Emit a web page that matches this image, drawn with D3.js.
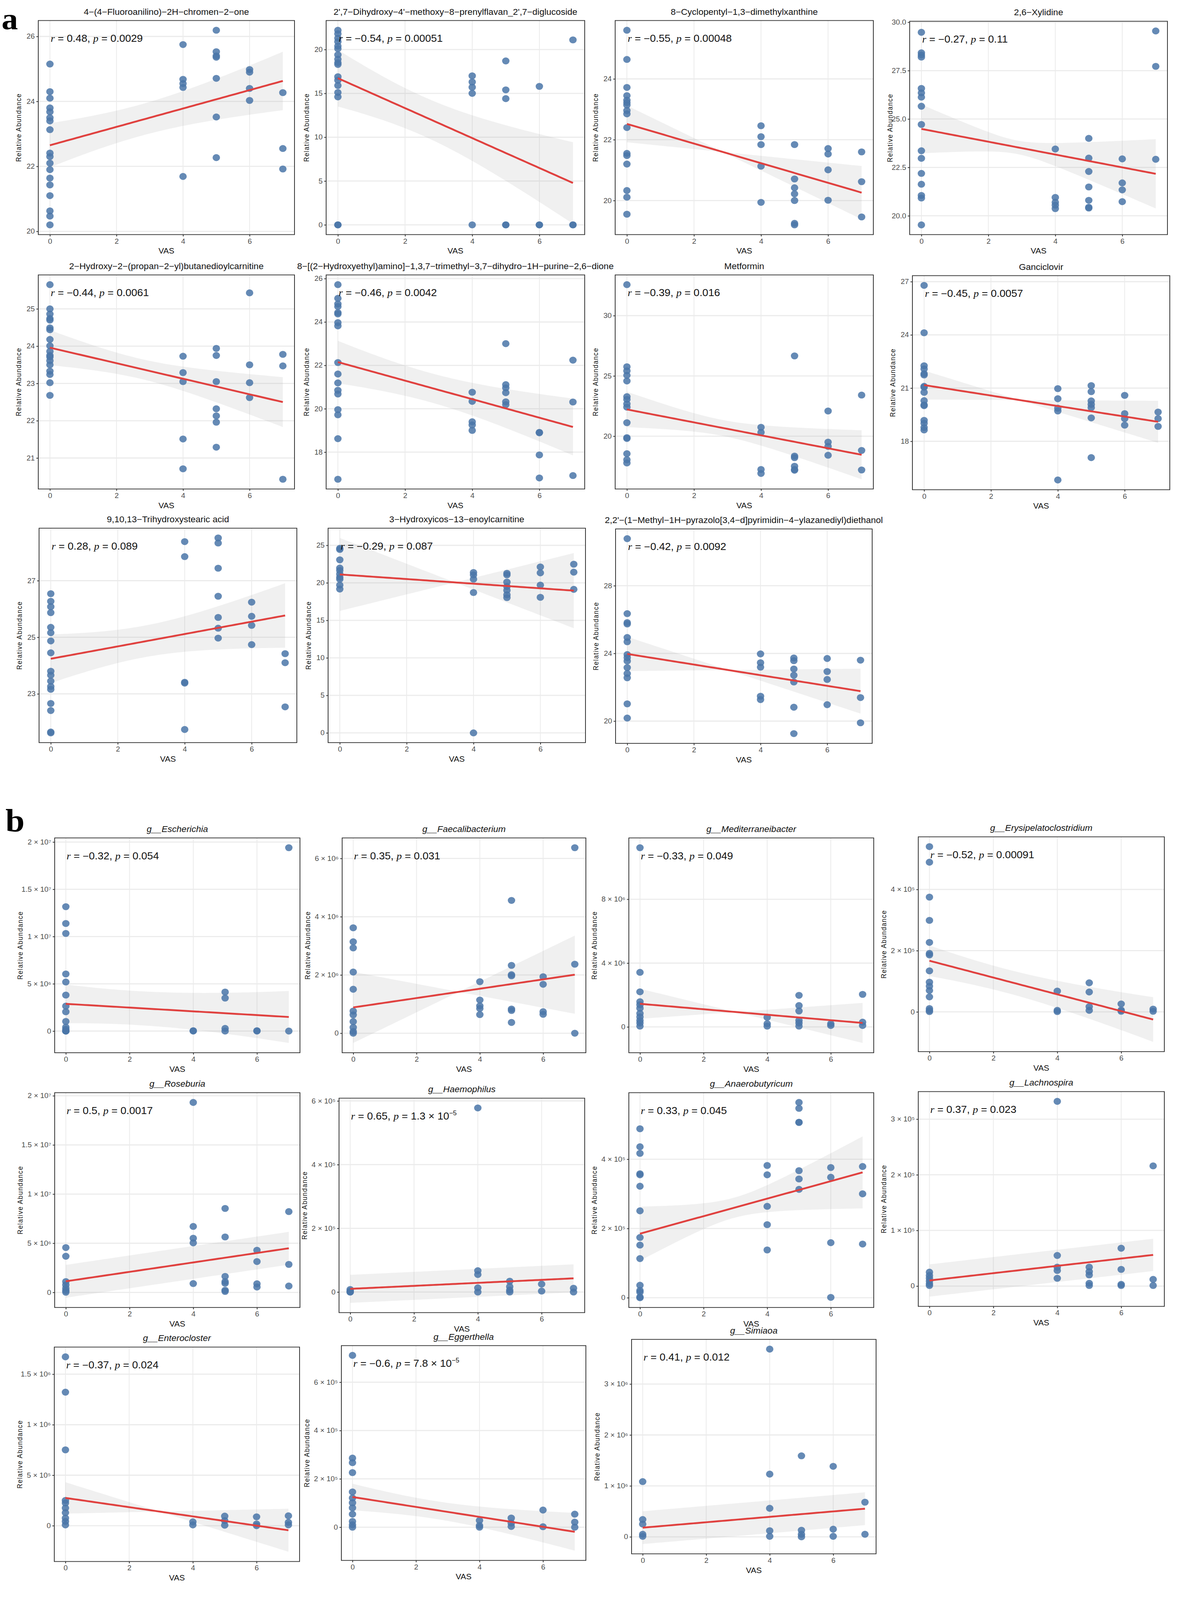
<!DOCTYPE html>
<html>
<head>
<meta charset="utf-8">
<script src="https://cdn.jsdelivr.net/npm/d3@7"></script>
<style>
  html, body { margin: 0; padding: 0; background: #fff; overflow: hidden; }
  svg { display: block; }
  .tick-label { font-family: "Liberation Sans Narrow", "Arial Narrow", "Liberation Sans", sans-serif; font-size: 19px; fill: #4d4d4d; }
  .panel-title { font-family: "Liberation Sans Narrow", "Arial Narrow", "Liberation Sans", sans-serif; font-size: 23px; fill: #111; }
  .stat { font-family: "Liberation Sans Narrow", "Arial Narrow", "Liberation Sans", sans-serif; font-size: 27px; fill: #111; }
  .axis-title { font-family: "Liberation Sans", Arial, sans-serif; font-size: 18px; fill: #111; }
  .x-title { font-family: "Liberation Sans Narrow", "Arial Narrow", "Liberation Sans", sans-serif; font-size: 21px; fill: #111; }
</style>
</head>
<body>
<div id="chart"></div>
<script>
// ---- data (x = VAS, y = relative abundance) ----
const titles = [
  "4\u2212(4\u2212Fluoroanilino)\u22122H\u2212chromen\u22122\u2212one",
  "2',7\u2212Dihydroxy\u22124'\u2212methoxy\u22128\u2212prenylflavan_2',7\u2212diglucoside",
  "8\u2212Cyclopentyl\u22121,3\u2212dimethylxanthine",
  "2,6\u2212Xylidine",
  "2\u2212Hydroxy\u22122\u2212(propan\u22122\u2212yl)butanedioylcarnitine",
  "8\u2212[(2\u2212Hydroxyethyl)amino]\u22121,3,7\u2212trimethyl\u22123,7\u2212dihydro\u22121H\u2212purine\u22122,6\u2212dione",
  "Metformin",
  "Ganciclovir",
  "9,10,13\u2212Trihydroxystearic acid",
  "3\u2212Hydroxyicos\u221213\u2212enoylcarnitine",
  "2,2'\u2212(1\u2212Methyl\u22121H\u2212pyrazolo[3,4\u2212d]pyrimidin\u22124\u2212ylazanediyl)diethanol",
  "g__Escherichia", "g__Faecalibacterium", "g__Mediterraneibacter", "g__Erysipelatoclostridium",
  "g__Roseburia", "g__Haemophilus", "g__Anaerobutyricum", "g__Lachnospira",
  "g__Enterocloster", "g__Eggerthella", "g__Simiaoa"
];

const rValues = ["0.48", "\u22120.54", "\u22120.55", "\u22120.27", "\u22120.44", "\u22120.46", "\u22120.39", "\u22120.45", "0.28", "\u22120.29", "\u22120.42",
  "\u22120.32", "0.35", "\u22120.33", "\u22120.52", "0.5", "0.65", "0.33", "0.37", "\u22120.37", "\u22120.6", "0.41"];
const pValues = ["0.0029", "0.00051", "0.00048", "0.11", "0.0061", "0.0042", "0.016", "0.0057", "0.089", "0.087", "0.0092",
  "0.054", "0.031", "0.049", "0.00091", "0.0017", "1.3 \u00d7 10^-5", "0.045", "0.023", "0.024", "7.8 \u00d7 10^-5", "0.012"];

const yTicks = [
  [20, 22, 24, 26], [0, 5, 10, 15, 20], [20, 22, 24], [20, 22.5, 25, 27.5, 30],
  [21, 22, 23, 24, 25], [18, 20, 22, 24, 26], [20, 25, 30], [18, 21, 24, 27],
  [23, 25, 27], [0, 5, 10, 15, 20, 25], [20, 24, 28],
  [0, 5e6, 1e7, 1.5e7, 2e7], [0, 2e6, 4e6, 6e6], [0, 4e6, 8e6], [0, 2e5, 4e5],
  [0, 5e6, 1e7, 1.5e7, 2e7], [0, 2e5, 4e5, 6e5], [0, 2e5, 4e5], [0, 1e5, 2e5, 3e5],
  [0, 5e5, 1e6, 1.5e6], [0, 2e5, 4e5, 6e5], [0, 1e6, 2e6, 3e6]
];
const xTicks = [0, 2, 4, 6];

// fitted line at VAS = 0 and VAS = 7, and the 95% band half-width there
const fitStart = [22.65, 16.73, 22.52, 24.49, 23.96, 22.15, 22.22, 21.17, 24.24, 21.12, 23.97,
  2.88e6, 0.886e6, 1.45e6, 1.67e5, 1.13e6, 1.0e4, 1.85e5, 1.0e4, 2.75e5, 1.25e5, 1.8e5];
const fitEnd = [24.63, 4.78, 20.26, 22.17, 22.5, 19.16, 18.46, 19.1, 25.77, 18.96, 21.77,
  1.49e6, 2.01e6, 0.25e6, -0.25e5, 4.49e6, 4.3e4, 3.62e5, 5.6e4, -0.45e5, -0.19e5, 5.52e5];
const bandStart = [0.68, 3.23, 0.52, 1.26, 0.47, 0.98, 1.47, 0.64, 0.86, 1.6, 0.84,
  2.05e6, 0.64e6, 0.81e6, 0.5e5, 1.67e6, 4.4e4, 0.78e5, 2.9e4, 1.54e5, 0.55e5, 3.22e5];
const bandEnd = [0.9, 4.65, 0.82, 1.79, 0.67, 1.31, 2.03, 1.07, 1.14, 2.0, 1.2,
  2.75e6, 0.85e6, 1.16e6, 0.73e5, 2.23e6, 5.9e4, 1.04e5, 3.8e4, 2.12e5, 0.78e5, 4.26e5];

const fluoroanilino = {
  0: [25.15, 24.3, 24.1, 23.8, 23.68, 23.5, 23.4, 23.13, 22.41, 22.3, 22.1, 21.9, 21.64, 21.43, 21.1, 20.63, 20.47, 20.2],
  4: [25.75, 24.68, 24.55, 24.43, 21.69],
  5: [26.19, 25.53, 25.4, 25.36, 24.71, 23.52, 22.27],
  6: [24.98, 24.9, 24.4, 24.03],
  7: [24.27, 22.55, 21.92]
};
const prenylflavan = {
  0: [22.2, 21.8, 21.3, 20.9, 20.4, 20.1, 19.4, 18.9, 18.5, 18.3, 16.9, 16.5, 15.9, 15.1, 14.6, 0, 0],
  4: [17.0, 16.3, 15.7, 15.0, 0],
  5: [18.7, 15.4, 14.4, 0, 0],
  6: [15.8, 0, 0],
  7: [21.1, 0, 0]
};
const cyclopentyl = {
  0: [25.6, 24.64, 23.72, 23.45, 23.3, 23.22, 23.14, 22.96, 22.85, 22.4, 21.55, 21.48, 21.2, 20.33, 20.11, 19.55],
  4: [22.46, 22.1, 21.84, 21.13, 19.94],
  5: [21.84, 20.71, 20.42, 20.22, 20.0, 19.25, 19.2],
  6: [21.71, 21.53, 21.01, 20.01],
  7: [21.6, 20.62, 19.46]
};
const xylidine = {
  0: [29.48, 28.42, 28.31, 28.2, 26.58, 26.35, 26.13, 25.66, 24.72, 23.36, 22.97, 22.19, 21.63, 21.05, 20.92, 19.53],
  4: [23.45, 20.95, 20.7, 20.55, 20.37],
  5: [24.0, 22.98, 22.29, 21.49, 20.8, 20.44, 20.4],
  6: [22.94, 21.7, 21.34, 20.73],
  7: [29.55, 27.72, 22.92]
};
const butanedioylcarnitine = {
  0: [25.65, 25.0, 24.86, 24.74, 24.7, 24.49, 24.44, 24.18, 24.01, 23.86, 23.75, 23.71, 23.61, 23.5, 23.33, 23.24, 23.02, 22.68],
  4: [23.73, 23.29, 23.05, 21.51, 20.71],
  5: [23.94, 23.75, 23.05, 22.32, 22.13, 21.96, 21.29],
  6: [25.43, 23.5, 23.02, 22.62],
  7: [23.78, 23.47, 20.43]
};
const hydroxyethylPurine = {
  0: [25.72, 25.09, 24.83, 24.71, 24.43, 24.37, 23.97, 23.82, 22.13, 21.6, 21.19, 20.85, 20.68, 19.96, 19.72, 18.62, 16.75],
  4: [20.76, 20.34, 19.4, 19.25, 19.0],
  5: [23.0, 21.11, 20.96, 20.74, 20.32, 20.19],
  6: [18.91, 18.89, 17.87, 16.81],
  7: [22.24, 20.31, 16.92]
};
const metformin = {
  0: [32.57, 25.76, 25.42, 25.05, 24.58, 23.28, 23.05, 22.68, 22.41, 21.12, 19.88, 19.81, 18.55, 18.05, 17.78],
  4: [20.74, 20.32, 17.24, 16.91],
  5: [26.66, 18.35, 18.22, 17.51, 17.24, 17.18],
  6: [22.09, 19.51, 19.16, 18.42],
  7: [23.41, 18.82, 17.2]
};
const ganciclovir = {
  0: [26.79, 24.12, 22.26, 22.08, 21.81, 21.74, 21.1, 21.05, 20.76, 20.29, 20.05, 20.01, 19.18, 19.02, 18.78, 18.64],
  4: [20.97, 20.4, 19.87, 19.71, 15.82],
  5: [21.14, 20.8, 20.28, 20.08, 19.9, 19.32, 17.08],
  6: [20.59, 19.56, 19.28, 18.91],
  7: [19.65, 19.28, 18.84]
};
const trihydroxystearic = {
  0: [26.54, 26.27, 26.08, 25.87, 25.35, 25.16, 24.87, 24.45, 23.8, 23.66, 23.45, 23.26, 23.16, 22.66, 22.41, 21.65, 21.62],
  4: [28.38, 27.85, 23.41, 23.38, 21.74],
  5: [28.51, 28.33, 27.44, 26.45, 25.7, 25.32, 24.97],
  6: [26.24, 25.74, 25.42, 24.74],
  7: [24.42, 24.1, 22.54]
};
const hydroxyicosenoyl = {
  0: [24.6, 24.45, 23.07, 21.97, 21.65, 21.17, 20.74, 20.49, 19.7, 19.17],
  4: [21.38, 21.06, 20.49, 18.71, 0],
  5: [21.27, 21.06, 20.1, 19.51, 19.0, 18.41, 18.03],
  6: [22.12, 21.33, 19.7, 18.07],
  7: [22.48, 21.42, 19.13]
};
const pyrazolopyrimidine = {
  0: [30.78, 26.35, 25.82, 25.74, 24.94, 24.69, 23.93, 23.75, 23.55, 23.16, 22.81, 22.56, 21.02, 20.18],
  4: [23.97, 23.45, 23.19, 21.47, 21.27],
  5: [23.73, 23.57, 23.08, 22.71, 22.31, 20.82, 19.26],
  6: [23.7, 22.93, 22.46, 20.97],
  7: [23.6, 21.39, 19.9]
};
const escherichia = {
  0: [1.316e7, 1.138e7, 1.033e7, 6.04e6, 5.19e6, 3.81e6, 2.64e6, 2.04e6, 1.02e6, 4.1e5, 1.9e5, 0, 0, 0],
  4: [4e4, 0],
  5: [4.13e6, 3.49e6, 2.8e5, 0],
  6: [4e4, 0],
  7: [1.94e7, 0]
};
const faecalibacterium = {
  0: [3.62e6, 3.14e6, 2.93e6, 2.1e6, 1.51e6, 7.6e5, 6.3e5, 4e5, 2e5, 6e4, 0],
  4: [1.77e6, 1.14e6, 9.4e5, 8.5e5, 6.4e5],
  5: [4.56e6, 2.33e6, 2.01e6, 1.97e6, 8.3e5, 7.8e5, 3.7e5],
  6: [1.94e6, 1.68e6, 7.4e5, 6.5e5],
  7: [6.37e6, 2.37e6, 0]
};
const mediterraneibacter = {
  0: [1.123e7, 3.42e6, 2.2e6, 1.58e6, 1.39e6, 1.17e6, 8.5e5, 6.3e5, 4.1e5, 2.5e5, 5e4],
  4: [6e5, 2e5, 5e4],
  5: [1.98e6, 1.34e6, 1.0e6, 4.1e5, 2.5e5, 5e4],
  6: [2e5, 9e4],
  7: [2.04e6, 3e5, 9e4]
};
const erysipelatoclostridium = {
  0: [5.4e5, 4.89e5, 3.75e5, 2.99e5, 2.27e5, 1.91e5, 1.86e5, 1.34e5, 9.7e4, 8.4e4, 7e4, 4.9e4, 1.1e4, 5e3, 1e3],
  4: [6.8e4, 5e3, 1e3],
  5: [9.5e4, 6.5e4, 1.7e4, 5e3],
  6: [2.6e4, 6e3, 2e3],
  7: [9e3, 2e3]
};
const roseburia = {
  0: [4.56e6, 3.68e6, 1.1e6, 7.7e5, 4.3e5, 1.8e5, 2e4],
  4: [1.932e7, 6.71e6, 5.51e6, 5.04e6, 9e5],
  5: [8.54e6, 5.64e6, 1.63e6, 1.1e6, 9.3e5, 2.2e5, 1e5],
  6: [4.29e6, 3.14e6, 8.8e5, 5.5e5],
  7: [8.22e6, 2.85e6, 6.5e5]
};
const haemophilus = {
  0: [8e3, 3e3, 0, 0],
  4: [5.78e5, 6.7e4, 5.5e4, 1.3e4, 0],
  5: [3.4e4, 1.7e4, 6e3, 0],
  6: [2.5e4, 3e3],
  7: [1.2e4, 0]
};
const anaerobutyricum = {
  0: [4.88e5, 4.36e5, 4.17e5, 3.58e5, 3.55e5, 3.22e5, 2.51e5, 1.74e5, 1.52e5, 1.13e5, 3.6e4, 2.1e4, 1.6e4, 2e3, 0],
  4: [3.82e5, 3.55e5, 2.64e5, 2.11e5, 1.38e5],
  5: [5.64e5, 5.47e5, 5.07e5, 5.06e5, 3.67e5, 3.43e5, 3.13e5],
  6: [3.76e5, 3.48e5, 1.59e5, 1e3],
  7: [3.79e5, 3.0e5, 1.55e5]
};
const lachnospira = {
  0: [2.5e4, 1.9e4, 1.4e4, 9e3, 4e3, 1e3],
  4: [3.32e5, 5.5e4, 3.4e4, 2.8e4, 1.4e4],
  5: [3.4e4, 2.6e4, 2e4, 5e3, 1e3],
  6: [6.8e4, 3e4, 3e3, 1e3],
  7: [2.16e5, 1.2e4, 1e3]
};
const enterocloster = {
  0: [1.672e6, 1.322e6, 7.51e5, 2.5e5, 2.25e5, 1.75e5, 1.29e5, 7.5e4, 4.2e4, 8e3],
  4: [3.8e4, 8e3],
  5: [9.5e4, 5e4, 5e3],
  6: [8.8e4, 1.7e4, 0],
  7: [9.8e4, 3.3e4, 8e3]
};
const eggerthella = {
  0: [7.11e5, 2.86e5, 2.67e5, 2.26e5, 1.46e5, 1.21e5, 1.01e5, 8e4, 5.4e4, 2.4e4, 1e4, 0],
  4: [2.8e4, 7e3, 0],
  5: [3.8e4, 1.7e4, 3e3],
  6: [7.1e4, 2e3],
  7: [5.4e4, 2.1e4, 0]
};
const simiaoa = {
  0: [1.084e6, 3.4e5, 2.5e5, 5e4, 1e4],
  4: [3.685e6, 1.231e6, 5.6e5, 1.2e5, 1e4],
  5: [1.59e6, 1.3e5, 5e4, 0],
  6: [1.384e6, 1.5e5, 1e4],
  7: [6.8e5, 5e4]
};

const panelData = [fluoroanilino, prenylflavan, cyclopentyl, xylidine, butanedioylcarnitine, hydroxyethylPurine,
  metformin, ganciclovir, trihydroxystearic, hydroxyicosenoyl, pyrazolopyrimidine,
  escherichia, faecalibacterium, mediterraneibacter, erysipelatoclostridium, roseburia, haemophilus,
  anaerobutyricum, lachnospira, enterocloster, eggerthella, simiaoa];

// ---- layout: plot-box corners [x0, y0, x1, y1] for each panel ----
const boxes = [
  [98, 56, 754, 640], [835, 56, 1497, 640], [1575, 56, 2236, 640], [2329, 58, 2989, 640],
  [98, 750, 754, 1334], [835, 750, 1497, 1334], [1575, 750, 2236, 1334], [2336, 752, 2995, 1336],
  [100, 1441, 760, 2026], [840, 1441, 1499, 2026], [1576, 1443, 2233, 2028],
  [140, 2286, 768, 2872], [876, 2286, 1500, 2872], [1610, 2286, 2237, 2872], [2351, 2283, 2981, 2869],
  [140, 2981, 768, 3567], [868, 2996, 1497, 3581], [1610, 2981, 2237, 3567], [2351, 2978, 2981, 3564],
  [139, 3675, 767, 4260], [874, 3671, 1500, 4257], [1617, 3654, 2243, 4239]
];

const W = 3016, H = 4365;
// fit the whole figure into the visible window
const svg = d3.select("#chart").append("svg")
  .attr("viewBox", `0 0 ${W} ${H}`)
  .attr("preserveAspectRatio", "none")
  .style("width", "100vw").style("height", "100vh");

// band of the linear fit: line through the read values, half-width growing away from mean VAS
function fitBand(i, mx) {
  const a = fitStart[i], b = (fitEnd[i] - fitStart[i]) / 7;
  const h0 = bandStart[i], h7 = bandEnd[i];
  let B = (h7 * h7 - h0 * h0) / ((7 - mx) ** 2 - mx ** 2);
  if (B < 0) B = 0;
  const A = Math.max(h0 * h0 - B * mx * mx, 0);
  return d3.range(0, 7.001, 0.1).map(x => {
    const yh = a + b * x, hw = Math.sqrt(A + B * (x - mx) ** 2);
    return { x, y: yh, lo: yh - hw, hi: yh + hw };
  });
}

const supMap = { "-": "\u207b", "0": "\u2070", "1": "\u00b9", "2": "\u00b2", "3": "\u00b3", "4": "\u2074", "5": "\u2075", "6": "\u2076", "7": "\u2077", "8": "\u2078", "9": "\u2079" };
const toSup = s => s.split("").map(c => supMap[c] || c).join("");

function sciLabel(v) {
  if (v === 0) return "0";
  const e = Math.floor(Math.log10(v) + 1e-9);
  const m = +(v / 10 ** e).toFixed(2);
  return `${m} \u00d7 10${toSup(String(e))}`;
}

panelData.forEach((obj, i) => {
  const [x0, y0, x1, y1] = boxes[i];
  const isB = i >= 11;
  const pts = [];
  Object.keys(obj).forEach(k => obj[k].forEach(v => pts.push([+k, v])));
  const band = fitBand(i, d3.mean(pts, d => d[0]));

  const ext = d3.extent(pts.map(d => d[1]).concat(band.map(d => d.lo), band.map(d => d.hi)));
  const pad = (ext[1] - ext[0]) * 0.05;
  const x = d3.scaleLinear().domain([-0.35, 7.35]).range([x0, x1]);
  const y = d3.scaleLinear().domain([ext[0] - pad, ext[1] + pad]).range([y1, y0]);

  const g = svg.append("g");
  const clipId = "clip" + i;
  g.append("clipPath").attr("id", clipId).append("rect")
    .attr("x", x0).attr("y", y0).attr("width", x1 - x0).attr("height", y1 - y0);

  // grid
  g.selectAll(".gx").data(xTicks).enter().append("line")
    .attr("x1", d => x(d)).attr("x2", d => x(d)).attr("y1", y0).attr("y2", y1)
    .attr("stroke", "#ebebeb").attr("stroke-width", 2);
  g.selectAll(".gy").data(yTicks[i]).enter().append("line")
    .attr("x1", x0).attr("x2", x1).attr("y1", d => y(d)).attr("y2", d => y(d))
    .attr("stroke", "#ebebeb").attr("stroke-width", 3);

  // confidence ribbon and fit
  const plot = g.append("g").attr("clip-path", `url(#${clipId})`);
  plot.append("path").datum(band)
    .attr("d", d3.area().x(d => x(d.x)).y0(d => y(d.lo)).y1(d => y(d.hi)))
    .attr("fill", "#999").attr("fill-opacity", 0.15);

  // points
  plot.selectAll("circle").data(pts).enter().append("circle")
    .attr("cx", d => x(d[0])).attr("cy", d => y(d[1])).attr("r", 9.5)
    .attr("fill", "#4a76a8").attr("fill-opacity", 0.85);

  plot.append("path").datum(band)
    .attr("d", d3.line().x(d => x(d.x)).y(d => y(d.y)))
    .attr("fill", "none").attr("stroke", "#e0413f").attr("stroke-width", 5);

  // border
  g.append("rect").attr("x", x0).attr("y", y0).attr("width", x1 - x0).attr("height", y1 - y0)
    .attr("fill", "none").attr("stroke", "#333").attr("stroke-width", 2);

  // axes
  const xAxis = d3.axisBottom(x).tickValues(xTicks).tickSize(5).tickPadding(6);
  const ax = g.append("g").attr("transform", `translate(0,${y1})`).call(xAxis);
  ax.select(".domain").remove();
  ax.selectAll("line").attr("stroke", "#333").attr("stroke-width", 2);
  ax.selectAll("text").attr("class", "tick-label").attr("font-size", null).attr("font-family", null);

  const fmt = isB ? sciLabel : (i === 3 ? d3.format(".1f") : d3.format("d"));
  const yAxis = d3.axisLeft(y).tickValues(yTicks[i]).tickSize(5).tickPadding(4).tickFormat(fmt);
  const ay = g.append("g").attr("transform", `translate(${x0},0)`).call(yAxis);
  ay.select(".domain").remove();
  ay.selectAll("line").attr("stroke", "#333").attr("stroke-width", 2);
  ay.selectAll("text").attr("class", "tick-label").attr("font-size", null).attr("font-family", null);

  // titles
  g.append("text").attr("class", "panel-title")
    .attr("x", (x0 + x1) / 2).attr("y", y0 - 16).attr("text-anchor", "middle")
    .attr("font-style", isB ? "italic" : null).text(titles[i]);
  g.append("text").attr("class", "x-title")
    .attr("x", (x0 + x1) / 2).attr("y", y1 + 52).attr("text-anchor", "middle").text("VAS");
  g.append("text").attr("class", "axis-title")
    .attr("transform", `translate(${x0 - (isB ? 82 : 44)},${(y0 + y1) / 2}) rotate(-90)`)
    .attr("text-anchor", "middle").attr("letter-spacing", "1.5px").text("Relative Abundance");

  // correlation label
  const st = g.append("text").attr("class", "stat").attr("x", x(0) + 2).attr("y", y0 + 58);
  st.append("tspan").attr("font-family", "Liberation Serif, serif").attr("font-style", "italic").text("r");
  st.append("tspan").text(`  = ${rValues[i]}, `);
  st.append("tspan").attr("font-family", "Liberation Serif, serif").attr("font-style", "italic").text("p");
  const pv = pValues[i].split("^");
  st.append("tspan").text(` = ${pv[0]}`);
  if (pv[1]) st.append("tspan").attr("dy", -12).attr("font-size", 17).text(pv[1].replace("-", "\u2212"));
});

// panel letters
svg.append("text").attr("x", 4).attr("y", 80).attr("font-family", "Liberation Serif, serif")
  .attr("font-weight", "bold").attr("font-size", 84).text("a");
svg.append("text").attr("x", 14).attr("y", 2268).attr("font-family", "Liberation Serif, serif")
  .attr("font-weight", "bold").attr("font-size", 88).text("b");
</script>
</body>
</html>
